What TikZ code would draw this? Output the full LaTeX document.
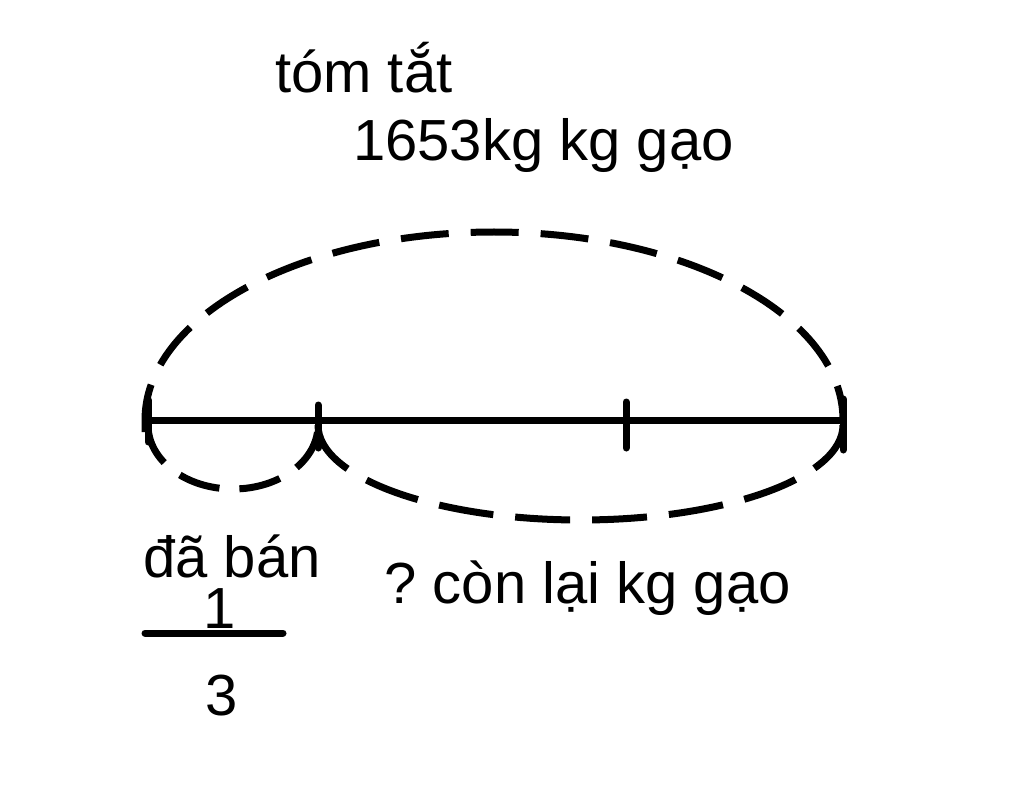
\documentclass[tikz,border=0pt]{standalone}
\usepackage{fontspec}
\setmainfont{Liberation Sans}
\begin{document}
\begin{tikzpicture}[x=1pt,y=-1pt,
  lbl/.style={anchor=base west,inner sep=0pt,font=\fontsize{58}{60}\selectfont},
  solidline/.style={line width=7pt},
  tick/.style={line width=7pt,line cap=round},
  dashline/.style={line width=7pt,dash pattern=on 48pt off 22pt}]
\useasboundingbox[fill=white] (0,0) rectangle (1024,799);
% labels
\node[lbl] (title) at (275,93) {tóm tắt};
\node[lbl] (total) at (353,161) {1653kg kg gạo};
\node[lbl] (sold) at (143,577) {đã bán};
\node[lbl] (rest) at (384,603) {?\kern-5pt{} còn lại kg gạo};
\node[lbl] (num) at (203,628) {1};
\node[lbl] (den) at (205,715) {3};
% fraction bar
\coordinate (fb1) at (145,633);
\coordinate (fb2) at (283,633);
\draw[tick] (fb1) -- (fb2);
% main segment
\coordinate (A) at (148,420);
\coordinate (B) at (318,420);
\coordinate (C) at (626,420);
\coordinate (D) at (843,420);
\draw[solidline] (A) -- (D);
\draw[tick] (148,400) -- (148,442);
\draw[tick] (318,405) -- (318,448);
\draw[tick] (626,402) -- (626,448);
\draw[tick] (843,399) -- (843,450);
% top dashed ellipse
\draw[dashline] (145,432) -- (145,420) arc[start angle=180,end angle=0,x radius=349pt,y radius=188pt] -- (843,408);
% small lower arc
\draw[dashline,dash pattern=on 42pt off 20pt] (148,425) arc[start angle=180,end angle=360,x radius=85pt,y radius=64pt];
% large lower arc
\draw[dashline,dash pattern=on 55pt off 22pt] (318,425) arc[start angle=180,end angle=360,x radius=262.5pt,y radius=95pt];
\end{tikzpicture}
\end{document}
